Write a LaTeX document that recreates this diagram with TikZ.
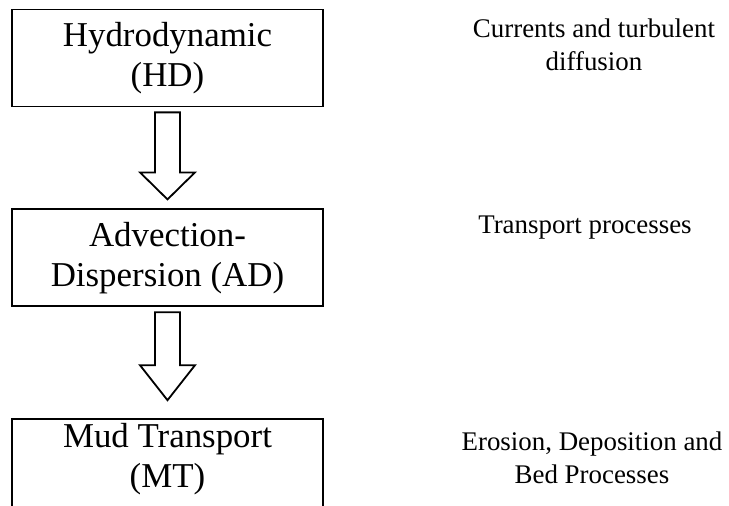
\documentclass[tikz,border=0pt]{standalone}
\usepackage{fontspec}
\setmainfont{Liberation Serif}
\usetikzlibrary{positioning,calc}

\tikzset{
	box/.style={draw, line width=1.8bp, minimum width=311bp, minimum height=97bp,
		align=center, inner sep=2bp, font=\fontsize{35}{40}\selectfont},
	note/.style={align=center, font=\fontsize{27}{33}\selectfont},
	blockarrow/.style={draw, line width=1.8bp, line join=miter, fill=white}
}

\newcommand{\flowarrow}[4]{%
	\draw[blockarrow] ($(#1.south)+(-12.5,-5)$) -- ($(#2.north)+(-12.5,#3+#4)$)
		-- ($(#2.north)+(-27.5,#3+#4)$) -- ($(#2.north)+(0,#3)$)
		-- ($(#2.north)+(27.5,#3+#4)$) -- ($(#2.north)+(12.5,#3+#4)$)
		-- ($(#1.south)+(12.5,-5)$) -- cycle;}

\begin{document}
\begin{tikzpicture}[x=1bp, y=1bp]
		\clip (0,0) rectangle (729,-506);
		\node[box] (hd) at (167.5,-58) {Hydrodynamic\\(HD)};
		\node[box, below=101bp of hd] (ad) {Advection-\\Dispersion (AD)};
		\node[box, below=111bp of ad, minimum height=0pt, text depth=110bp, inner ysep=4bp] (mt) {Mud Transport\\(MT)};

		\flowarrow{hd}{ad}{9}{27}
		\flowarrow{ad}{mt}{18}{35}

		\node[note] (hdnote) at (594,-45) {Currents and turbulent\\diffusion};
		\node[note] (adnote) at (585,-228) {Transport processes};
		\node[note] (mtnote) at (592,-458) {Erosion, Deposition and\\Bed Processes};
	\end{tikzpicture}
\end{document}
